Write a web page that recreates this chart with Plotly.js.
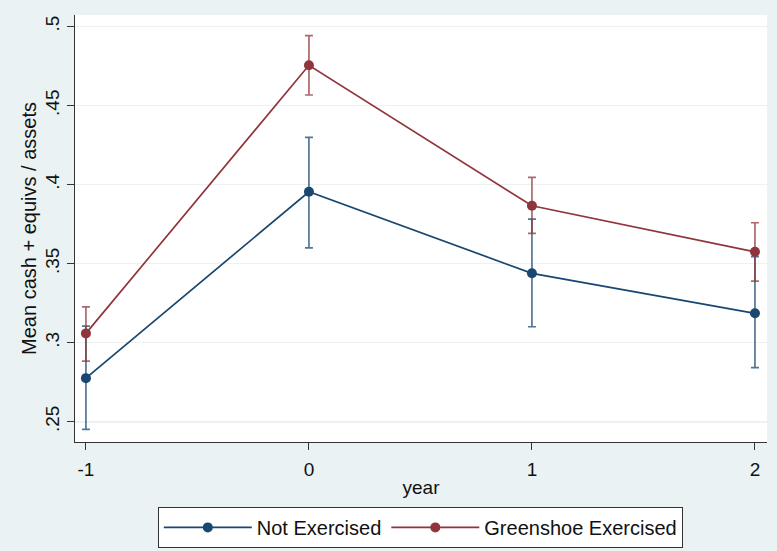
<!DOCTYPE html>
<html>
<head>
<meta charset="utf-8">
<script src="https://cdn.plot.ly/plotly-3.0.1.min.js"></script>
<style>html,body{margin:0;padding:0;background:#EAF2F3;}#chart{width:777px;height:551px;}</style>
</head>
<body>
<div id="chart"></div>
<script>
const years = [-1, 0, 1, 2];
const notExMean = [0.2776, 0.3955, 0.3439, 0.3186];
const notExHi   = [0.3105, 0.4299, 0.3782, 0.3544];
const notExLo   = [0.2452, 0.3600, 0.3101, 0.2842];
const greenMean = [0.3059, 0.4755, 0.3866, 0.3575];
const greenHi   = [0.3227, 0.4942, 0.4046, 0.3759];
const greenLo   = [0.2884, 0.4567, 0.3692, 0.3390];
const yTickVals = [0.25, 0.3, 0.35, 0.4, 0.45, 0.5];
const yTickText = ['.25', '.3', '.35', '.4', '.45', '.5'];
const xTickVals = [-1, 0, 1, 2];
const xTickText = ['-1', '0', '1', '2'];
const seriesNames = ['Not Exercised', 'Greenshoe Exercised'];

const blue = '#1A476F', red = '#90353B';
function mk(name, mean, hi, lo, col, errcol) {
  return {
    x: years, y: mean, name: name, type: 'scatter', mode: 'lines+markers',
    line: {color: col, width: 1.7},
    marker: {color: col, size: 10},
    error_y: {type: 'data', symmetric: false,
      array: hi.map((v, i) => v - mean[i]),
      arrayminus: mean.map((v, i) => v - lo[i]),
      color: errcol, thickness: 1.7, width: 4}
  };
}
const data = [
  mk(seriesNames[0], notExMean, notExHi, notExLo, blue, 'rgba(26,71,111,0.75)'),
  mk(seriesNames[1], greenMean, greenHi, greenLo, red, 'rgba(144,53,59,0.75)')
];
const layout = {
  width: 777, height: 551,
  paper_bgcolor: '#EAF2F3', plot_bgcolor: '#FFFFFF',
  margin: {l: 75, r: 10, t: 15, b: 109, autoexpand: false},
  font: {family: 'Liberation Sans, Arial, sans-serif', color: '#111', size: 20},
  showlegend: true,
  xaxis: {
    range: [-1.049, 2.054], tickvals: xTickVals, ticktext: xTickText,
    showgrid: false, zeroline: false, showline: true, linecolor: '#333', linewidth: 1,
    ticks: 'outside', ticklen: 7, tickcolor: '#333', ticklabelstandoff: 3,
    tickfont: {size: 19},
    title: {text: 'year', font: {size: 19}, standoff: 1}
  },
  yaxis: {
    range: [0.2372, 0.5073], tickvals: yTickVals, ticktext: yTickText,
    showgrid: true, gridcolor: '#EAF2F3', gridwidth: 1.5,
    zeroline: false, showline: true, linecolor: '#333', linewidth: 1,
    ticks: 'outside', ticklen: 7, tickcolor: '#333', tickangle: -90,
    tickfont: {size: 19},
    title: {text: 'Mean cash + equivs / assets', font: {size: 20}, standoff: 0}
  },
  legend: {
    orientation: 'h', x: 0.499, xanchor: 'center', y: -0.152, yanchor: 'top',
    bgcolor: '#FFFFFF', bordercolor: '#333', borderwidth: 1,
    font: {size: 20}, itemwidth: 88, tracegroupgap: 0
  }
};
Plotly.newPlot('chart', data, layout, {displayModeBar: false, staticPlot: true});
</script>
</body>
</html>
